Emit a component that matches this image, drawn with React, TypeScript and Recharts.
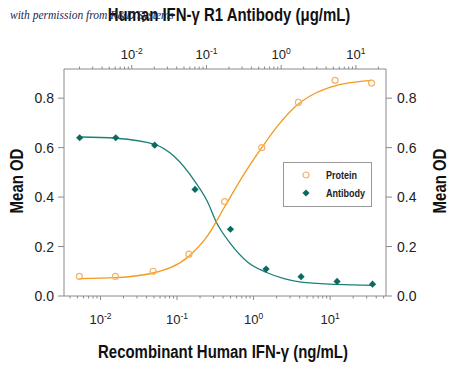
import React from 'react';
import { ScatterChart, Scatter, XAxis, YAxis } from 'recharts';

const proteinConc = [0.0053, 0.0157, 0.0487, 0.143, 0.418, 1.28, 3.85, 11.6, 34.8];
const proteinOD = [0.079, 0.079, 0.1, 0.169, 0.382, 0.6, 0.783, 0.872, 0.861];
const antibodyConc = [0.00201, 0.00611, 0.0203, 0.0703, 0.2096, 0.628, 1.847, 5.6, 16.7];
const antibodyOD = [0.64, 0.64, 0.61, 0.431, 0.27, 0.109, 0.078, 0.059, 0.048];

// fitted curves
const proteinFitConc = [0.0053, 0.0157, 0.0487, 0.143, 0.246, 0.418, 0.74, 1.28, 2.22, 3.85, 6.68, 11.6, 20.1, 34.8];
const proteinFitOD = [0.07, 0.074, 0.093, 0.161, 0.24, 0.36, 0.49, 0.6, 0.7, 0.776, 0.823, 0.85, 0.864, 0.872];
const antibodyFitConc = [0.00201, 0.00611, 0.0203, 0.0368, 0.0703, 0.103, 0.1346, 0.2096, 0.354, 0.628, 1.094, 1.847, 5.6, 16.7];
const antibodyFitOD = [0.643, 0.638, 0.613, 0.565, 0.463, 0.382, 0.3, 0.212, 0.138, 0.096, 0.07, 0.056, 0.047, 0.043];

const bottomTicks = [
  0.004, 0.005, 0.006, 0.007, 0.008, 0.009,
  0.01, 0.02, 0.03, 0.04, 0.05, 0.06, 0.07, 0.08, 0.09,
  0.1, 0.2, 0.3, 0.4, 0.5, 0.6, 0.7, 0.8, 0.9,
  1, 2, 3, 4, 5, 6, 7, 8, 9,
  10, 20, 30, 40, 50,
];
const topTicks = [
  0.002, 0.003, 0.004, 0.005, 0.006, 0.007, 0.008, 0.009,
  0.01, 0.02, 0.03, 0.04, 0.05, 0.06, 0.07, 0.08, 0.09,
  0.1, 0.2, 0.3, 0.4, 0.5, 0.6, 0.7, 0.8, 0.9,
  1, 2, 3, 4, 5, 6, 7, 8, 9,
  10, 20,
];
const odTicks = [0, 0.2, 0.4, 0.6, 0.8];

const pair = (xs: number[], ys: number[]) => xs.map((x, i) => ({ x, y: ys[i] }));

const proteinData = pair(proteinConc, proteinOD);
const antibodyData = pair(antibodyConc, antibodyOD);
const proteinFit = pair(proteinFitConc, proteinFitOD);
const antibodyFit = pair(antibodyFitConc, antibodyFitOD);

const FONT = "'Liberation Sans', Arial, sans-serif";
const AXIS = '#8a8a8a';
const ORANGE = '#f29a1e';
const ORANGE_DOT = '#f3b266';
const TEAL_LINE = '#1d7f78';
const TEAL = '#0b6b60';

const LogTick = (props: any) => {
  const { x, y, payload, side } = props;
  const v = payload.value;
  const lg = Math.log10(v);
  const exp = Math.round(lg);
  const major = Math.abs(lg - exp) < 1e-6;
  const dir = side === 'top' ? -1 : 1;
  const len = major ? 4 : 2.5;
  return (
    <g>
      <line x1={x} x2={x} y1={y} y2={y + dir * len} stroke={AXIS} />
      {major && (
        <text
          x={x}
          y={side === 'top' ? y - 10 : y + 28}
          textAnchor="middle"
          fontFamily={FONT}
          fontSize={13}
          fill="#222"
        >
          10<tspan dy={-5} fontSize={8.5}>{exp}</tspan>
        </text>
      )}
    </g>
  );
};

const Circle = (props: any) => {
  const { cx, cy } = props;
  return <circle cx={cx} cy={cy} r={3} fill="none" stroke={ORANGE_DOT} strokeWidth={1.2} />;
};

const Diamond = (props: any) => {
  const { cx, cy } = props;
  const s = 3.6;
  return <path d={`M${cx},${cy - s}L${cx + s},${cy}L${cx},${cy + s}L${cx - s},${cy}Z`} fill={TEAL} />;
};

const NoDot = () => <g />;

const labelStyle: React.CSSProperties = {
  position: 'absolute',
  fontFamily: FONT,
  fontWeight: 'bold',
  fontSize: 18,
  color: '#111',
  whiteSpace: 'nowrap',
  transform: 'translate(-50%, -50%) scaleX(0.83)',
};

const legendText: React.CSSProperties = {
  position: 'absolute',
  left: 42,
  lineHeight: '16px',
  transform: 'scaleX(0.82)',
  transformOrigin: 'left center',
};

export default function App() {
  return (
    <div style={{ position: 'absolute', left: 0, top: 0, width: 450, height: 365, background: '#fff' }}>
      <ScatterChart width={450} height={365} margin={{ top: 0, right: 0, bottom: 0, left: 0 }}>
        <XAxis
          xAxisId="bottom"
          orientation="bottom"
          type="number"
          dataKey="x"
          scale="log"
          domain={[0.00334, 53.7]}
          allowDataOverflow
          ticks={bottomTicks}
          interval={0}
          height={69}
          tickSize={0}
          tickMargin={0}
          tickLine={false}
          stroke={AXIS}
          tick={<LogTick side="bottom" />}
        />
        <XAxis
          xAxisId="top"
          orientation="top"
          type="number"
          dataKey="x"
          scale="log"
          domain={[0.00124, 25.3]}
          allowDataOverflow
          ticks={topTicks}
          interval={0}
          height={69}
          tickSize={0}
          tickMargin={0}
          tickLine={false}
          stroke={AXIS}
          tick={<LogTick side="top" />}
        />
        <YAxis
          yAxisId="left"
          orientation="left"
          type="number"
          dataKey="y"
          domain={[0, 0.918]}
          allowDataOverflow
          ticks={odTicks}
          interval={0}
          width={64}
          tickSize={6}
          tickMargin={4}
          stroke={AXIS}
          tickFormatter={(v: number) => v.toFixed(1)}
          tick={{ fontFamily: FONT, fontSize: 14, fill: '#222' }}
        />
        <YAxis
          yAxisId="right"
          orientation="right"
          type="number"
          dataKey="y"
          domain={[0, 0.918]}
          allowDataOverflow
          ticks={odTicks}
          interval={0}
          width={64}
          tickSize={6}
          tickMargin={5}
          stroke={AXIS}
          tickFormatter={(v: number) => v.toFixed(1)}
          tick={{ fontFamily: FONT, fontSize: 14, fill: '#222' }}
        />
        <Scatter
          name="Antibody fit"
          data={antibodyFit}
          xAxisId="top"
          yAxisId="left"
          line={{ stroke: TEAL_LINE, strokeWidth: 1.3 }}
          lineJointType="monotoneX"
          shape={<NoDot />}
          isAnimationActive={false}
        />
        <Scatter
          name="Protein fit"
          data={proteinFit}
          xAxisId="bottom"
          yAxisId="left"
          line={{ stroke: ORANGE, strokeWidth: 1.3 }}
          lineJointType="monotoneX"
          shape={<NoDot />}
          isAnimationActive={false}
        />
        <Scatter
          name="Protein"
          data={proteinData}
          xAxisId="bottom"
          yAxisId="left"
          shape={<Circle />}
          isAnimationActive={false}
        />
        <Scatter
          name="Antibody"
          data={antibodyData}
          xAxisId="top"
          yAxisId="left"
          shape={<Diamond />}
          isAnimationActive={false}
        />
      </ScatterChart>

      {/* legend */}
      <div
        style={{
          position: 'absolute',
          left: 283,
          top: 162,
          width: 87,
          height: 43,
          border: '1.5px solid #999',
          background: '#fff',
          fontFamily: FONT,
          fontWeight: 'bold',
          fontSize: 11,
          color: '#222',
        }}
      >
        <svg width={12} height={40} style={{ position: 'absolute', left: 16, top: 2 }}>
          <circle cx={6} cy={10} r={3} fill="none" stroke={ORANGE_DOT} strokeWidth={1.2} />
          <path d="M6,24.4L9.6,28L6,31.6L2.4,28Z" fill={TEAL} />
        </svg>
        <div style={{ ...legendText, top: 4 }}>Protein</div>
        <div style={{ ...legendText, top: 22 }}>Antibody</div>
      </div>

      <div style={{ ...labelStyle, left: 229, top: 15 }}>Human IFN-γ R1 Antibody (μg/mL)</div>
      <div
        style={{
          position: 'absolute',
          left: 10,
          top: 9,
          fontFamily: "'Liberation Serif', 'DejaVu Serif', serif",
          fontStyle: 'italic',
          fontSize: 11.5,
          color: '#1c2850',
          whiteSpace: 'nowrap',
        }}
      >
        with permission from R&amp;D Systems
      </div>
      <div style={{ ...labelStyle, left: 223, top: 352 }}>Recombinant Human IFN-γ (ng/mL)</div>
      <div style={{ ...labelStyle, left: 17, top: 181, transform: 'translate(-50%, -50%) rotate(-90deg) scaleX(0.83)' }}>Mean OD</div>
      <div style={{ ...labelStyle, left: 440, top: 181, transform: 'translate(-50%, -50%) rotate(-90deg) scaleX(0.83)' }}>Mean OD</div>
    </div>
  );
}
